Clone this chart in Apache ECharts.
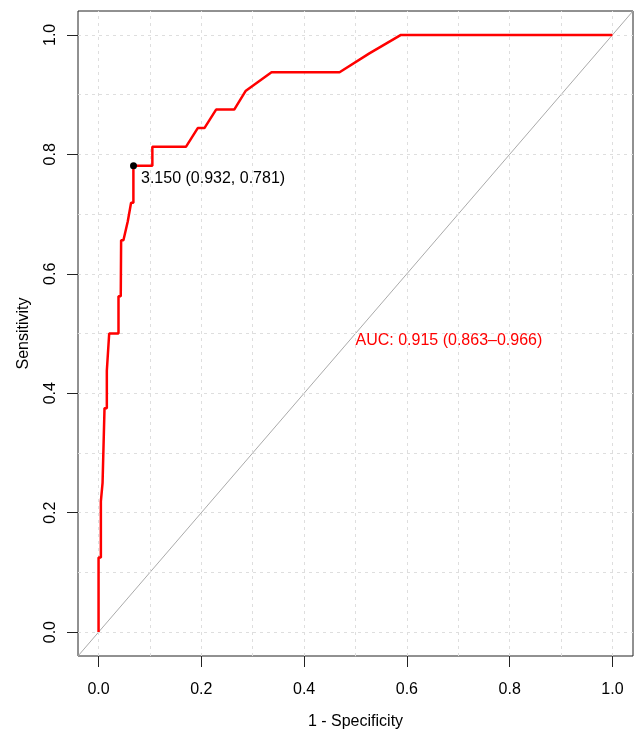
<!DOCTYPE html>
<html>
<head>
<meta charset="utf-8">
<script src="https://cdn.jsdelivr.net/npm/echarts@6/dist/echarts.min.js"></script>
<style>
  html, body { margin: 0; padding: 0; background: #fff; }
  #roc { width: 636px; height: 735px; }
</style>
</head>
<body>
<div id="roc"></div>
<script>
// ROC curve points (1 - specificity, sensitivity)
var fpr  = [0, 0,     0.0045, 0.0045, 0.0078, 0.0078, 0.0116, 0.0116, 0.0161, 0.0161, 0.0207, 0.0388, 0.0388, 0.0432, 0.0439, 0.0484, 0.0568, 0.0601, 0.0633, 0.0678, 0.0678, 0.1047, 0.1047, 0.170,  0.193,  0.206,  0.2287, 0.264, 0.286,  0.3366, 0.469,  0.527,  0.5885, 1.0];
var sens = [0, 0.125, 0.125,  0.219,  0.219,  0.25,   0.25,   0.375,  0.375,  0.4375, 0.5,    0.5,    0.5625, 0.5625, 0.656,  0.656,  0.6875, 0.6875, 0.719,  0.719,  0.781,  0.781,  0.8125, 0.8125, 0.844,  0.844,  0.875,  0.875, 0.906,  0.9375, 0.9375, 0.969,  1.0,    1.0];

// best threshold
var bestPoint = [0.068, 0.781];
var bestText = '3.150 (0.932, 0.781)';

// AUC text
var aucPos = [0.5, 0.5];
var aucText = 'AUC: 0.915 (0.863\u20130.966)';

// axes
var tickVals = [0, 0.2, 0.4, 0.6, 0.8, 1.0];
var gridVals = [0, 0.1, 0.2, 0.3, 0.4, 0.5, 0.6, 0.7, 0.8, 0.9, 1.0];
var axisMin = -0.04, axisMax = 1.04;

var FONT = 'Liberation Sans, Arial, Helvetica, sans-serif';

var rocChart = echarts.init(document.getElementById('roc'));
rocChart.setOption(getOption());

function getOption(){
	var curve = [];
	for (var i = 0; i < fpr.length; i++) curve.push([fpr[i], sens[i]]);

	var gridLines = [];
	gridVals.forEach(function(v){
		gridLines.push({xAxis: v});
		gridLines.push({yAxis: v});
	});

	var axisCommon = {
		type: 'value',
		min: axisMin,
		max: axisMax,
		axisLine: {show: false, onZero: false},
		splitLine: {show: false},
		axisTick: {show: true, inside: false, length: 11, customValues: tickVals,
			lineStyle: {color: '#222', width: 1}},
		axisLabel: {show: true, customValues: tickVals, color: '#000',
			fontFamily: FONT, fontSize: 16,
			formatter: function(v){ return v.toFixed(1); }},
		nameTextStyle: {color: '#000', fontFamily: FONT, fontSize: 16}
	};

	return {
		animation: false,
		backgroundColor: '#fff',
		grid: {left: 78, right: 3, top: 11, bottom: 77, show: true,
			borderColor: '#222', borderWidth: 1, backgroundColor: 'transparent'},
		xAxis: Object.assign({}, axisCommon, {
			name: '1 - Specificity', nameLocation: 'middle', nameGap: 58,
			axisLabel: Object.assign({}, axisCommon.axisLabel, {margin: 26})
		}),
		yAxis: Object.assign({}, axisCommon, {
			name: 'Sensitivity', nameLocation: 'middle', nameGap: 46,
			axisLabel: Object.assign({}, axisCommon.axisLabel, {rotate: 90, margin: 19})
		}),
		series: [
			{
				name: 'grid', type: 'line', data: [], silent: true, z: 0,
				markLine: {
					silent: true, symbol: ['none', 'none'], animation: false,
					label: {show: false},
					lineStyle: {color: '#dedede', type: [3, 4], width: 1},
					data: gridLines
				}
			},
			{
				name: 'diagonal', type: 'line', silent: true, z: 2,
				data: [[axisMin, axisMin], [axisMax, axisMax]],
				symbol: 'none',
				lineStyle: {color: '#aaaaaa', width: 1}
			},
			{
				name: 'ROC', type: 'line', z: 5,
				data: curve,
				symbol: 'none',
				lineStyle: {color: '#ff0000', width: 2.5}
			},
			{
				name: 'best', type: 'scatter', z: 6,
				data: [bestPoint],
				symbolSize: 7,
				itemStyle: {color: '#000', opacity: 1},
				label: {show: true, position: 'right', distance: 4, offset: [0, 13],
					formatter: bestText, color: '#000', fontFamily: FONT, fontSize: 16}
			},
			{
				name: 'auc', type: 'scatter', z: 6,
				data: [aucPos],
				symbolSize: 0,
				itemStyle: {opacity: 1},
				label: {show: true, position: 'right', distance: 0, offset: [0, 7],
					formatter: aucText, color: '#ff0000', fontFamily: FONT, fontSize: 16}
			}
		]
	};
}
</script>
</body>
</html>
